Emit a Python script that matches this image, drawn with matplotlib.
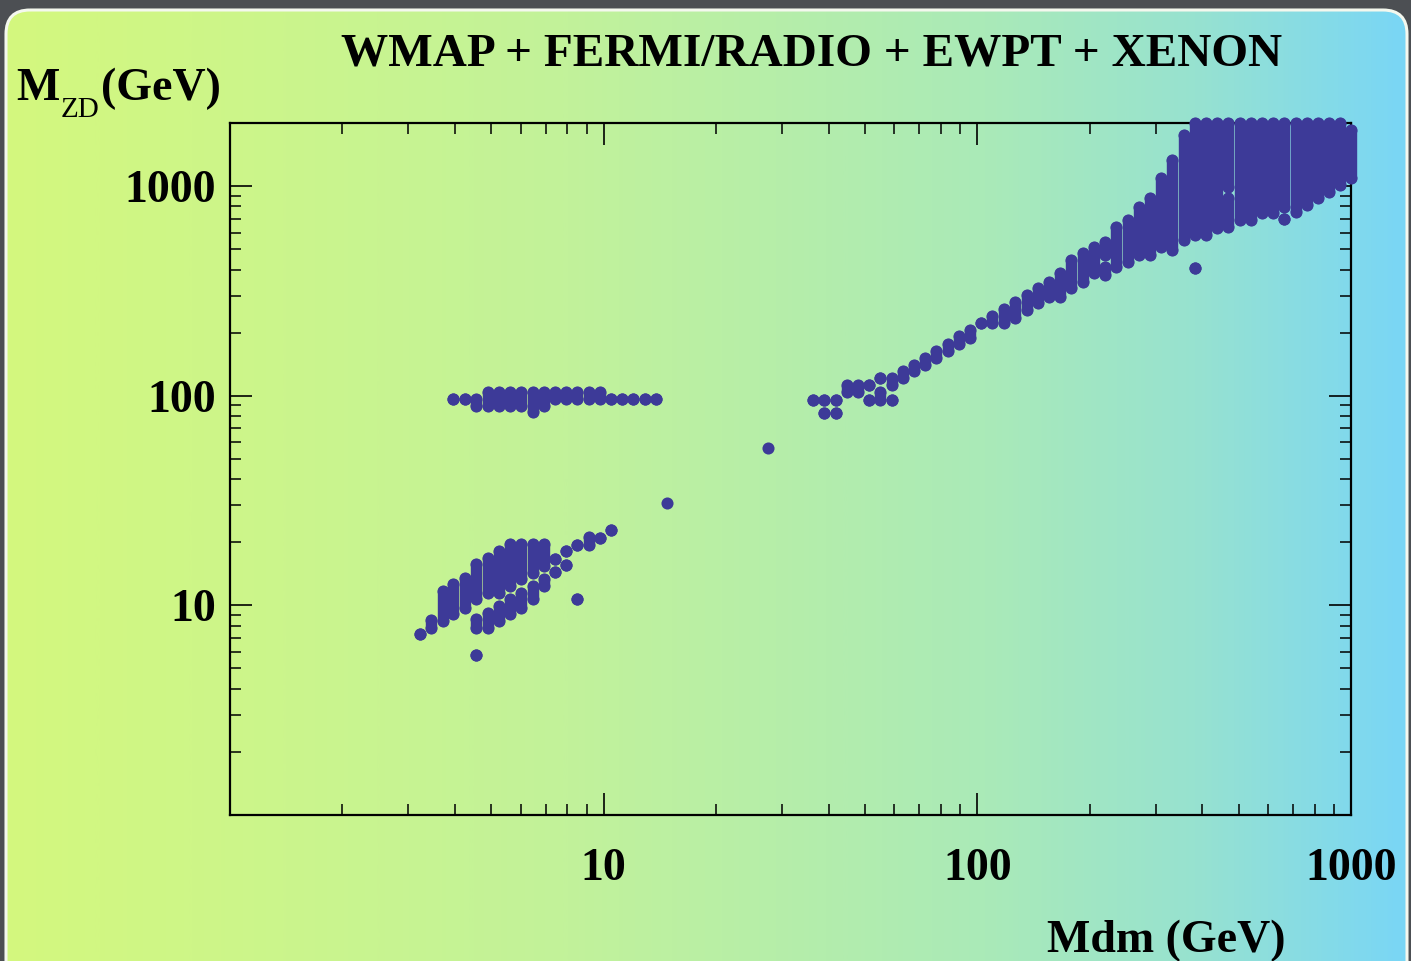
import numpy as np
import matplotlib
matplotlib.use("Agg")
import matplotlib.pyplot as plt
from matplotlib.colors import LinearSegmentedColormap
from matplotlib.patches import FancyBboxPatch
from matplotlib.ticker import LogLocator, NullFormatter

# ---------------- data: scan points, stored as vertical runs (x, y_low, y_high) ----------------
# lower-left island (Mdm ~ 3-10 GeV, MZD ~ 6-23 GeV)
low_x  = [3.23, 3.46, 3.71, 3.96, 4.26, 4.56, 4.56, 4.56, 4.89, 4.89, 5.24, 5.24, 5.62, 5.62,
          6.02, 6.02, 6.45, 6.45, 6.92, 6.92, 7.41, 7.41, 7.93, 7.93, 8.50, 8.50, 9.12, 9.76, 10.46]
low_lo = [7.28, 7.83, 8.42, 9.06, 9.75, 10.7, 7.83, 5.80, 11.5, 7.83, 11.5, 8.42, 12.4, 9.06,
          13.3, 9.75, 14.3, 10.7, 15.4, 12.4, 16.7, 14.4, 18.1, 15.6, 19.5, 10.7, 19.5, 21.0, 22.8]
low_hi = [7.28, 8.51, 11.7, 12.6, 13.5, 15.7, 8.58, 5.80, 16.9, 9.23, 18.1, 9.93, 19.7, 10.7,
          19.7, 11.5, 19.7, 12.4, 19.7, 13.3, 16.7, 14.4, 18.1, 15.6, 19.5, 10.7, 21.2, 21.0, 22.8]

# band at MZD ~ 100 GeV (light dark matter)
band_x  = [3.96, 4.26, 4.56, 4.89, 5.24, 5.62, 6.02, 6.45, 6.92, 7.41, 7.93, 8.50, 9.12, 9.76,
           10.46, 11.2, 12.0, 12.9, 13.8]
band_lo = [96.4, 96.4, 88.9, 88.9, 88.9, 88.9, 88.9, 83.2, 88.9, 96.4, 96.4, 96.4, 96.4, 96.4,
           96.4, 96.4, 96.4, 96.4, 96.4]
band_hi = [96.4, 96.4, 96.4, 103.7, 103.7, 103.7, 103.7, 103.7, 103.7, 103.7, 103.7, 103.7,
           103.7, 103.7, 96.4, 96.4, 96.4, 96.4, 96.4]

# isolated points
iso_x = [14.8, 27.5]
iso_y = [30.9, 56.5]

# heavy branch (Mdm ~ 36-1000 GeV)
up_x  = [36.3, 38.9, 38.9, 41.8, 41.8, 44.7, 47.9, 51.3, 51.3, 55.0, 55.0, 59.0, 59.0,
         63.1, 67.7, 72.6, 77.7, 83.3, 89.2, 95.6, 102.3, 109.7, 117.7, 126.1, 135.4,
         144.9, 155.3, 166.5, 178.2, 191.2, 204.6, 219.4, 219.4, 235.3, 252.5, 270.2,
         289.6, 310.6, 332.8, 356.6, 382.4, 382.4, 409.1, 437.8, 469.5, 469.5, 503.6,
         539.0, 577.9, 618.5, 663.1, 663.1, 711.5, 761.5, 816.3, 875.1, 936.7, 1000]
up_lo = [95.7, 95.7, 82.7, 95.7, 82.7, 104.5, 104.5, 113, 95.7, 121, 95.7, 112, 95.7,
         121, 131, 140, 151, 163, 177, 188, 222, 222, 222, 234, 257,
         276, 297, 297, 326, 350, 384, 469, 377, 413, 436, 469,
         469, 514, 496, 553, 584, 406, 584, 629, 992, 640, 689,
         689, 741, 741, 797, 694, 754, 812, 874, 939, 1011, 1088]
up_hi = [95.7, 95.7, 82.7, 95.7, 82.7, 113, 113, 113, 95.7, 121, 104.5, 121, 95.7,
         131, 140, 151, 164, 177, 192, 206, 222, 240, 259, 280, 303,
         326, 350, 384, 444, 478, 514, 543, 413, 640, 689, 797,
         874, 1088, 1330, 1749, 2000, 406, 2000, 2000, 2000, 874, 2000,
         2000, 2000, 2000, 2000, 694, 2000, 2000, 2000, 2000, 2000, 1849]

x_ticks = [1, 10, 100, 1000]
x_ticklabels = ['', '10', '100', '1000']
y_ticks = [1, 10, 100, 1000]
y_ticklabels = ['', '10', '100', '1000']

title = 'WMAP + FERMI/RADIO + EWPT + XENON'
dot_color = '#3d3a98'
serif = ['Liberation Serif', 'DejaVu Serif']

# ---------------- figure + gradient panel ----------------
W, H = 1411, 961
fig = plt.figure(figsize=(W / 100, H / 100), dpi=100)
fig.patch.set_facecolor('#4c4f53')

bg = fig.add_axes([0, 0, 1, 1])
bg.set_xlim(0, W)
bg.set_ylim(H, 0)
bg.axis('off')
cmap = LinearSegmentedColormap.from_list(
    'panel', [(0.0, '#d4f87e'), (0.4, '#c2f29a'), (0.7, '#aaeab8'),
              (0.85, '#97e2d0'), (1.0, '#79d6f6')])
im = bg.imshow(np.linspace(0, 1, 600)[None, :], cmap=cmap, aspect='auto',
               extent=[0, W, H, 0], zorder=0)
panel = FancyBboxPatch((6, 10), W - 10, H + 40, boxstyle='round,pad=0,rounding_size=24',
                       transform=bg.transData, facecolor='none', edgecolor='#f4f8ee',
                       lw=2.2, zorder=1)
bg.add_patch(panel)
im.set_clip_path(panel)

# ---------------- main axes ----------------
ax = fig.add_axes([230 / W, (H - 815) / H, 1121 / W, 692 / H])
ax.set_facecolor('none')
ax.set_xscale('log')
ax.set_yscale('log')
ax.set_xlim(1, 1000)
ax.set_ylim(1, 2000)

LW = 8.2   # width of a run of overlapping dots, points
MS = 8.7   # dot diameter, points
for xs, los, his in [(low_x, low_lo, low_hi), (band_x, band_lo, band_hi), (up_x, up_lo, up_hi)]:
    for x, lo, hi in zip(xs, los, his):
        ax.plot([x, x], [lo, hi], color=dot_color, lw=LW, solid_capstyle='round',
                marker='o', ms=MS, mew=0, clip_on=False, zorder=3)
ax.scatter(iso_x, iso_y, s=MS ** 2, color=dot_color, lw=0, clip_on=False, zorder=3)

for sp in ax.spines.values():
    sp.set_linewidth(1.6)

ax.set_xticks(x_ticks)
ax.set_xticklabels(x_ticklabels)
ax.set_yticks(y_ticks)
ax.set_yticklabels(y_ticklabels)
ax.xaxis.set_minor_locator(LogLocator(base=10, subs=range(2, 10)))
ax.yaxis.set_minor_locator(LogLocator(base=10, subs=range(2, 10)))
ax.xaxis.set_minor_formatter(NullFormatter())
ax.yaxis.set_minor_formatter(NullFormatter())
ax.tick_params(which='both', direction='in', top=True, right=True, color='black')
ax.tick_params(which='major', length=15.5, width=1.2)
ax.tick_params(which='minor', length=7.8, width=1.1)
ax.tick_params(axis='x', which='major', pad=24)
ax.tick_params(axis='y', which='major', pad=10)
for lab in ax.get_xticklabels() + ax.get_yticklabels():
    lab.set_fontfamily(serif)
    lab.set_fontweight('bold')
    lab.set_fontsize(33)

# ---------------- texts ----------------
fig.text(812 / W, 1 - 66 / H, title, ha='center', va='baseline',
         fontsize=34, fontweight='bold', family=serif)
fig.text(16 / W, 1 - 100 / H, 'M', ha='left', va='baseline',
         fontsize=33, fontweight='bold', family=serif)
fig.text(61 / W, 1 - 117 / H, 'ZD', ha='left', va='baseline',
         fontsize=21, family=serif)
fig.text(101 / W, 1 - 100 / H, '(GeV)', ha='left', va='baseline',
         fontsize=33, fontweight='bold', family=serif)
fig.text(1047 / W, 1 - 952 / H, 'Mdm (GeV)', ha='left', va='baseline',
         fontsize=33, fontweight='bold', family=serif)

fig.savefig('out.png', dpi=100, facecolor=fig.get_facecolor())
